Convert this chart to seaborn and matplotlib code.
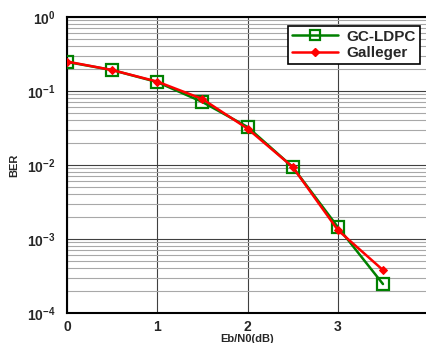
import numpy as np
import pandas as pd
import matplotlib
matplotlib.use("Agg")
import matplotlib.pyplot as plt
import seaborn as sns
from matplotlib.lines import Line2D
from matplotlib.ticker import LogLocator, FixedLocator, NullFormatter

# Data
ebn0 = [0, 0.5, 1, 1.5, 2, 2.5, 3, 3.5]
ber_gc_ldpc = [0.247, 0.192, 0.132, 0.071, 0.0327, 0.0094, 0.00145, 0.000246]
ber_galleger = [0.250, 0.192, 0.134, 0.078, 0.031, 0.0094, 0.00132, 0.00038]
series_names = ["GC-LDPC", "Galleger"]

df = pd.DataFrame({
    "EbN0": ebn0 * 2,
    "BER": ber_gc_ldpc + ber_galleger,
    "code": [series_names[0]] * len(ebn0) + [series_names[1]] * len(ebn0),
})

sns.set_style("white")
plt.rcParams['font.family'] = ['Liberation Sans', 'DejaVu Sans']
plt.rcParams['font.weight'] = 'bold'

fig = plt.figure(figsize=(4.26, 3.43), dpi=100)
ax = fig.add_axes([0.157, 0.0875, 0.848, 0.863])

sns.lineplot(data=df, x="EbN0", y="BER", hue="code", style="code",
             palette={"GC-LDPC": "#008000", "Galleger": "#ff0000"},
             markers={"GC-LDPC": "s", "Galleger": "D"},
             dashes=False, linewidth=1.8, markersize=7, ax=ax, legend=False,
             zorder=3)

# hollow green square, small red diamond
lines = ax.get_lines()
lines[0].set_markerfacecolor("none")
lines[0].set_markeredgecolor("#008000")
lines[0].set_markeredgewidth(1.6)
lines[0].set_markersize(8)
lines[1].set_markersize(4.5)
lines[1].set_markeredgecolor("#ff0000")

ax.set_yscale("log")
ax.set_ylim(1e-4, 1)
ax.set_xlim(0, 4)
ax.xaxis.set_major_locator(FixedLocator([0, 1, 2, 3]))
ax.yaxis.set_major_locator(LogLocator(base=10, numticks=10))
ax.yaxis.set_minor_locator(LogLocator(base=10, subs=np.arange(2, 10), numticks=20))
ax.yaxis.set_minor_formatter(NullFormatter())

ax.grid(True, which="major", axis="both", color="#404040", linewidth=0.8)
ax.grid(True, which="minor", axis="y", color="#a8a8a8", linewidth=0.8)
ax.set_axisbelow(True)

for s in ax.spines.values():
    s.set_color("black")
    s.set_linewidth(1.5)

ax.tick_params(axis="x", which="major", labelsize=10, length=3, direction="in", pad=5)
ax.tick_params(axis="y", which="major", labelsize=10, length=3, direction="in", pad=8)
ax.tick_params(axis="y", which="minor", length=0)
for lab in ax.get_xticklabels() + ax.get_yticklabels():
    lab.set_fontweight("bold")

ax.set_xlabel("Eb/N0(dB)", fontsize=8, fontweight="bold", labelpad=0)
ax.set_ylabel("BER", fontsize=8, fontweight="bold", labelpad=6)

handles = [
    Line2D([], [], color="#008000", marker="s", markerfacecolor="none",
           markeredgewidth=1.6, markersize=7, linewidth=1.8),
    Line2D([], [], color="#ff0000", marker="D", markersize=4, linewidth=1.8),
]
leg = ax.legend(handles, series_names, loc="upper right",
                bbox_to_anchor=(0.99, 0.985), fancybox=False, framealpha=1,
                edgecolor="black", prop={"weight": "bold", "size": 11},
                handlelength=3.0, handletextpad=0.6, borderpad=0.25,
                labelspacing=0.15, borderaxespad=0.3)
leg.get_frame().set_linewidth(1.2)

fig.savefig("out.png", dpi=100)
